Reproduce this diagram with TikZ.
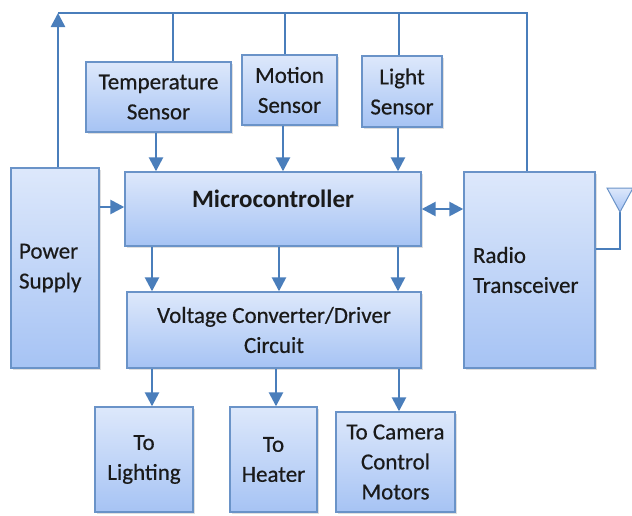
\documentclass[tikz,border=0pt]{standalone}
\usepackage{fontspec}
\setmainfont{Carlito}
\newfontfamily\boxfont[FakeBold=0.5]{Carlito}
\usetikzlibrary{shadows,arrows.meta,calc}
\definecolor{boxtop}{HTML}{DDE8FB}
\definecolor{boxbot}{HTML}{A6C3F4}
\definecolor{boxline}{HTML}{6A93C8}
\definecolor{arrcol}{HTML}{4A7EBB}
\definecolor{txt}{HTML}{1A1A1A}
\tikzset{
  blk/.style={draw=boxline, line width=1.4pt, top color=boxtop, bottom color=boxbot,
    drop shadow={opacity=0.25, shadow xshift=2pt, shadow yshift=-2pt},
    inner sep=0pt, align=center, text=txt, font=\boxfont\fontsize{23}{30}\selectfont},
  arr/.style={draw=arrcol, line width=2.6pt, -{Triangle[length=14pt,width=14pt]}},
  darr/.style={draw=arrcol, line width=2.6pt, {Triangle[length=14pt,width=14pt]}-{Triangle[length=14pt,width=14pt]}},
  wire/.style={draw=arrcol, line width=1.8pt},
}
\begin{document}
\begin{tikzpicture}[x=1pt,y=-1pt]
\useasboundingbox (0,0) rectangle (632,515);
% boxes
\node[blk, minimum width=88, minimum height=200, text width=72, inner xsep=8pt, align=left] (power) at (55,268) {Power\\Supply};
\node[blk, minimum width=145, minimum height=70] (temp) at (158.5,97) {Temperature\\Sensor};
\node[blk, minimum width=95, minimum height=70] (motion) at (289.5,90) {Motion\\Sensor};
\node[blk, minimum width=80, minimum height=71] (light) at (402,91.5) {Light\\Sensor};
\node[blk, minimum width=296, minimum height=74] (micro) at (273,209) {};
\node[font=\fontsize{25}{30}\selectfont\bfseries, text=txt] (microtext) at ([yshift=-28pt]micro.north) {Microcontroller};
\node[blk, minimum width=131, minimum height=196, text width=113, inner xsep=9pt, align=left] (radio) at (529.5,270) {Radio\\Transceiver};
\node[blk, minimum width=294, minimum height=76] (volt) at (274,330) {Voltage Converter/Driver\\Circuit};
\node[blk, minimum width=98, minimum height=105] (lighting) at (144,459.5) {To\\Lighting};
\node[blk, minimum width=87, minimum height=105] (heater) at (273.5,459.5) {To\\Heater};
\node[blk, minimum width=119, minimum height=100] (camera) at (395.5,462) {To Camera\\Control\\Motors};
% sensor arrows
\draw[arr] (156,0 |- temp.south) -- (156,0 |- micro.north);
\draw[arr] (283,0 |- motion.south) -- (283,0 |- micro.north);
\draw[arr] (398,0 |- light.south) -- (398,0 |- micro.north);
% micro to voltage
\draw[arr] (152,0 |- micro.south) -- (152,0 |- volt.north);
\draw[arr] (279,0 |- micro.south) -- (279,0 |- volt.north);
\draw[arr] (398,0 |- micro.south) -- (398,0 |- volt.north);
% voltage to outputs
\draw[arr] (152,0 |- volt.south) -- (152,0 |- lighting.north);
\draw[arr] (276,0 |- volt.south) -- (276,0 |- heater.north);
\draw[arr] (399,0 |- volt.south) -- (399,0 |- camera.north);
% power to micro, micro <-> radio
\draw[arr] (power.east |- 0,207) -- (micro.west |- 0,207);
\draw[darr] (micro.east |- 0,209) -- (radio.west |- 0,209);
% top loop
\coordinate (tl) at (58,13);
\coordinate (tr) at (527,13);
\draw[wire] (tl) -- (tr) -- (tr |- radio.north);
\draw[arr] (tl |- power.north) -- (tl);
\draw[wire] (173,0 |- tl) -- (173,0 |- temp.north);
\draw[wire] (285,0 |- tl) -- (285,0 |- motion.north);
\draw[wire] (399,0 |- tl) -- (399,0 |- light.north);
% antenna
\coordinate (ant) at (620,212);
\draw[wire, line width=1.4pt] (radio.east |- 0,249) -- (ant |- 0,249) -- (ant);
\draw[draw=boxline, line width=1pt, top color=boxtop, bottom color=boxbot] (607,188) -- (633,188) -- (ant) -- cycle;
\end{tikzpicture}
\end{document}
